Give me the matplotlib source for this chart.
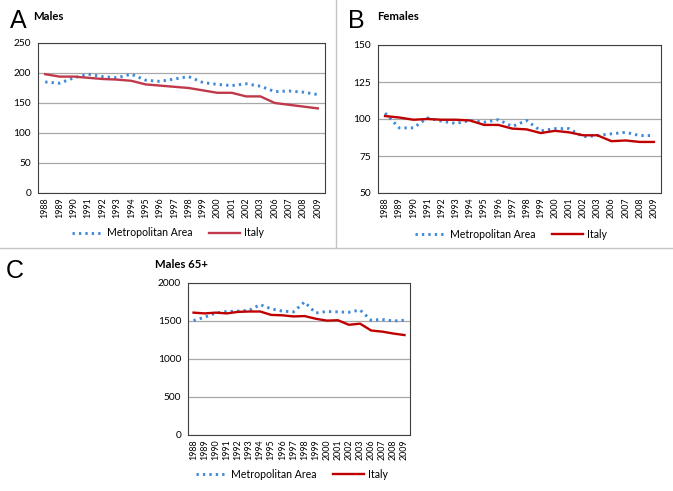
import numpy as np
import matplotlib
matplotlib.use('Agg')
from matplotlib import pyplot as plt
from matplotlib.lines import Line2D

# data
years = ['1988', '1989', '1990', '1991', '1992', '1993', '1994', '1995', '1996', '1997',
         '1998', '1999', '2000', '2001', '2002', '2003', '2006', '2007', '2008', '2009']

males_metro = [185, 183, 192, 198, 194, 192, 198, 188, 186, 190,
               194, 184, 181, 179, 182, 178, 169, 170, 168, 164]
males_italy = [198, 194, 194, 192, 190, 189, 187, 181, 179, 177,
               175, 171, 167, 167, 161, 161, 150, 147, 144, 141]

females_metro = [104, 94, 94, 100.7, 98.5, 97, 99, 97.8, 99.5, 95,
                 99, 92, 93.5, 93.5, 88, 88.8, 90, 91, 88.8, 88.8]
females_italy = [102, 101, 99.5, 100, 99.5, 99.5, 99, 96, 96, 93.5,
                 93, 90.5, 92, 91, 89, 89, 85, 85.5, 84.5, 84.5]

old_metro = [1505, 1550, 1605, 1625, 1630, 1640, 1715, 1660, 1630, 1620,
             1750, 1605, 1625, 1620, 1615, 1645, 1510, 1520, 1500, 1510]
old_italy = [1610, 1600, 1610, 1600, 1620, 1625, 1625, 1580, 1575, 1560,
             1565, 1530, 1505, 1510, 1450, 1465, 1375, 1360, 1335, 1315]

plt.rcParams['font.family'] = ['Lato', 'DejaVu Sans']

fig = plt.figure(figsize=(6.73, 4.91), dpi=100)
W, H = 673.0, 491.0

def panel(box, metro, italy, ylim, step, red, letter, letter_xy, title, title_xy, leg_xy):
    l, t, r, b = box
    ax = fig.add_axes([l / W, 1 - b / H, (r - l) / W, (b - t) / H])
    x = np.arange(len(years))
    ax.plot(x, metro, color='#3f8ad8', lw=2.1, linestyle=(0, (0.8, 1.4)),
            label='Metropolitan Area')
    ax.plot(x, italy, color=red, lw=1.7, label='Italy')
    ax.set_xlim(-0.5, len(years) - 0.5)
    ax.set_ylim(*ylim)
    ax.set_yticks(np.arange(ylim[0], ylim[1] + 1, step))
    ax.set_xticks(x)
    ax.set_xticklabels(years, rotation=90, fontsize=6.4)
    ax.tick_params(axis='y', labelsize=7.3, length=0, pad=5)
    ax.tick_params(axis='x', length=0, pad=3)
    ax.yaxis.grid(True, color='#a8a8a8', lw=0.9)
    ax.set_axisbelow(True)
    for s in ax.spines.values():
        s.set_color('#404040')
        s.set_linewidth(0.8)
    ax.legend(loc='center', bbox_to_anchor=(leg_xy[0] / W, 1 - leg_xy[1] / H),
              bbox_transform=fig.transFigure, ncol=2, frameon=False, fontsize=7.6,
              handlelength=2.9, columnspacing=1.6, handletextpad=0.4)
    fig.text(letter_xy[0] / W, 1 - letter_xy[1] / H, letter, fontsize=18,
             family='Liberation Sans', va='baseline')
    fig.text(title_xy[0] / W, 1 - title_xy[1] / H, title, fontsize=8.2,
             fontweight='bold', va='center')
    return ax

panel((38, 43, 325, 193), males_metro, males_italy, (0, 250), 50, '#c0394b',
      'A', (10, 28), 'Males', (33, 17), (168, 233))
panel((378, 45, 661, 193), females_metro, females_italy, (50, 150), 25, '#c00000',
      'B', (348, 28), 'Females', (377, 17), (511, 234))
panel((188, 283, 410, 435), old_metro, old_italy, (0, 2000), 500, '#c00000',
      'C', (6, 278), 'Males 65+', (155, 265), (292, 474))

# panel separators
fig.add_artist(Line2D([336 / W, 336 / W], [1, 1 - 248 / H], color='#c4c4c4', lw=1))
fig.add_artist(Line2D([0, 1], [1 - 248 / H, 1 - 248 / H], color='#c4c4c4', lw=1))

fig.savefig('out.png', dpi=100)
